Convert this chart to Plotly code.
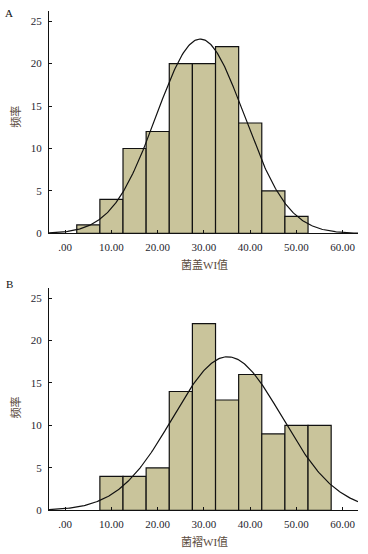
import numpy as np
import plotly.graph_objects as go

# ---- data ----
bin_width = 5
centers_a = [5, 10, 15, 20, 25, 30, 35, 40, 45, 50]
counts_a = [1, 4, 10, 12, 20, 20, 22, 13, 5, 2]
mean_a, sd_a = 29.2, 9.5

centers_b = [10, 15, 20, 25, 30, 35, 40, 45, 50, 55]
counts_b = [4, 4, 5, 14, 22, 13, 16, 9, 10, 10]
mean_b, sd_b = 35.1, 11.8

x_ticks = [0, 10, 20, 30, 40, 50, 60]
x_tick_labels = [".00", "10.00", "20.00", "30.00", "40.00", "50.00", "60.00"]
y_ticks = [0, 5, 10, 15, 20, 25]

W, H = 368, 554
XR = [-3.5, 63.3]
YR = [0, 26.2]

BAR_FILL = "#C9C49B"
TICK_COLOR = "#1e1e2e"
TITLE_COLOR = "#5a4a3c"
SERIF = "Liberation Serif, 'Times New Roman', 'Noto Sans CJK SC', serif"


def normal_curve(mean, sd, n):
    xs = np.linspace(XR[0], XR[1], 300)
    ys = n * bin_width / (sd * np.sqrt(2 * np.pi)) * np.exp(-0.5 * ((xs - mean) / sd) ** 2)
    return xs, ys


fig = go.Figure()

panels = [
    ("x", "y", centers_a, counts_a, mean_a, sd_a),
    ("x2", "y2", centers_b, counts_b, mean_b, sd_b),
]
for xa, ya, c, v, m, s in panels:
    fig.add_trace(go.Bar(
        x=c, y=v, width=bin_width, xaxis=xa, yaxis=ya,
        marker=dict(color=BAR_FILL, line=dict(color="#111111", width=1.2)),
        showlegend=False, hoverinfo="skip",
    ))
    cx, cy = normal_curve(m, s, sum(v))
    fig.add_trace(go.Scatter(
        x=cx, y=cy, mode="lines", xaxis=xa, yaxis=ya,
        line=dict(color="#111111", width=1.2),
        showlegend=False, hoverinfo="skip", cliponaxis=True,
    ))

# pixel helpers
def px(xp):
    return xp / W


def py(yp):
    return 1 - yp / H


x_dom = [px(49), px(358)]
dom_a = [py(236), py(11)]
dom_b = [py(516), py(291)]

xaxis_common = dict(
    range=XR, tickvals=x_ticks, ticktext=x_tick_labels,
    showgrid=False, zeroline=False, showline=True, linecolor="#111111", linewidth=1,
    ticks="inside", ticklen=3, tickcolor="#111111",
    tickfont=dict(family=SERIF, size=11, color=TICK_COLOR),
    domain=x_dom, fixedrange=True, ticklabelstandoff=3,
)
yaxis_common = dict(
    range=YR, tickvals=y_ticks,
    showgrid=False, zeroline=False, showline=True, linecolor="#111111", linewidth=1,
    ticks="inside", ticklen=3, tickcolor="#111111",
    tickfont=dict(family=SERIF, size=11, color=TICK_COLOR),
    fixedrange=True, ticklabelstandoff=4,
)

fig.update_layout(
    width=W, height=H, autosize=False,
    margin=dict(l=0, r=0, t=0, b=0),
    paper_bgcolor="white", plot_bgcolor="white",
    bargap=0,
    xaxis=dict(**xaxis_common, anchor="y"),
    yaxis=dict(**yaxis_common, domain=dom_a, anchor="x"),
    xaxis2=dict(**xaxis_common, anchor="y2"),
    yaxis2=dict(**yaxis_common, domain=dom_b, anchor="x2"),
)

annos = [
    ("A", 9, 13, 0, 11, "#111111"),
    ("B", 9, 287, 0, 11, "#111111"),
    ("菌盖WI值", 204, 267, 0, 11, TITLE_COLOR),
    ("菌褶WI值", 204, 547, 0, 11, TITLE_COLOR),
    ("频率", 16, 118, -90, 11, TITLE_COLOR),
    ("频率", 16, 412, -90, 11, TITLE_COLOR),
]
for text, xp, yp, ang, size, col in annos:
    fig.add_annotation(
        text=text, x=px(xp), y=py(yp), xref="paper", yref="paper",
        xanchor="center", yanchor="middle", showarrow=False, textangle=ang,
        font=dict(family=SERIF, size=size, color=col),
    )

fig.write_html(
    "out.html",
    config={"displayModeBar": False, "staticPlot": True},
    post_script="document.body.style.margin='0';document.body.style.overflow='hidden';",
)
